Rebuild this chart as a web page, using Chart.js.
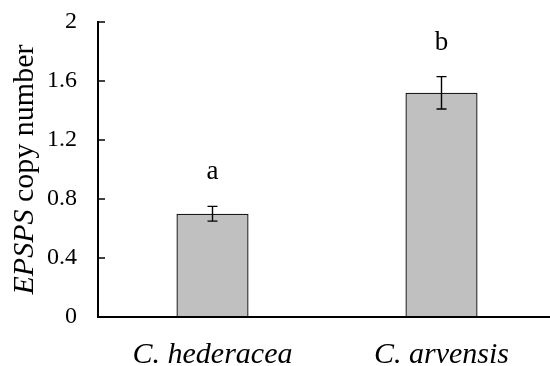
<!DOCTYPE html>
<html>
<head>
<meta charset="utf-8">
<script src="https://cdn.jsdelivr.net/npm/chart.js@4.4.0/dist/chart.umd.min.js"></script>
<style>
html,body{margin:0;padding:0;background:#fff;overflow:hidden;}
#wrap{width:560px;height:366px;overflow:hidden;}
</style>
</head>
<body>
<div id="wrap"><canvas id="c" width="560" height="366"></canvas></div>
<script>
const categories = ['C. hederacea', 'C. arvensis'];
const copyNumber = [0.70, 1.52];
const errorBars = [0.05, 0.11];
const groupLetters = ['a', 'b'];
const yTickValues = [0, 0.4, 0.8, 1.2, 1.6, 2];
const yTitleItalic = 'EPSPS';
const yTitleRest = ' copy number';

const FONT = '"Liberation Serif", "Times New Roman", serif';

const extras = {
  id: 'extras',
  afterDatasetsDraw(chart) {
    const ctx = chart.ctx;
    const x = chart.scales.x, y = chart.scales.y;
    const area = chart.chartArea;
    ctx.save();
    ctx.strokeStyle = '#000';
    ctx.lineWidth = 1.4;
    copyNumber.forEach((v, i) => {
      const cx = x.getPixelForValue(i);
      const yt = y.getPixelForValue(v + errorBars[i]);
      const yb = y.getPixelForValue(v - errorBars[i]);
      ctx.beginPath();
      ctx.moveTo(cx, yt); ctx.lineTo(cx, yb);
      ctx.moveTo(cx - 5, yt); ctx.lineTo(cx + 5, yt);
      ctx.moveTo(cx - 5, yb); ctx.lineTo(cx + 5, yb);
      ctx.stroke();
      ctx.fillStyle = '#000';
      ctx.font = '27px ' + FONT;
      ctx.textAlign = 'center';
      ctx.textBaseline = 'middle';
      ctx.fillText(groupLetters[i], cx, yt - 34);
    });
    ctx.lineWidth = 2;
    ctx.beginPath();
    ctx.moveTo(area.left, area.top - 1);
    ctx.lineTo(area.left, area.bottom);
    ctx.lineTo(area.right, area.bottom);
    ctx.stroke();
    ctx.lineWidth = 1.5;
    yTickValues.forEach(v => {
      const py = y.getPixelForValue(v);
      ctx.beginPath();
      ctx.moveTo(area.left, py); ctx.lineTo(area.left + 7, py);
      ctx.stroke();
    });
    ctx.translate(25, (area.top + area.bottom) / 2);
    ctx.rotate(-Math.PI / 2);
    ctx.textBaseline = 'middle';
    ctx.textAlign = 'left';
    ctx.font = 'italic 30px ' + FONT;
    const w1 = ctx.measureText(yTitleItalic).width;
    ctx.font = '30px ' + FONT;
    const w2 = ctx.measureText(yTitleRest).width;
    const start = -(w1 + w2) / 2;
    ctx.font = 'italic 30px ' + FONT;
    ctx.fillText(yTitleItalic, start, 0);
    ctx.font = '30px ' + FONT;
    ctx.fillText(yTitleRest, start + w1, 0);
    ctx.restore();
  }
};

new Chart(document.getElementById('c'), {
  type: 'bar',
  data: {
    labels: categories,
    datasets: [{
      data: copyNumber,
      backgroundColor: '#c0c0c0',
      borderColor: '#1a1a1a',
      borderWidth: 1.4,
      borderSkipped: 'bottom',
      categoryPercentage: 1,
      barPercentage: 0.315
    }]
  },
  options: {
    responsive: false,
    animation: false,
    layout: { padding: { top: 22, left: 0, right: 4, bottom: 0 } },
    plugins: { legend: { display: false }, tooltip: { enabled: false } },
    scales: {
      x: {
        grid: { display: false, drawTicks: false },
        border: { display: false },
        ticks: { color: '#000', padding: 20, font: { family: FONT, size: 30, style: 'italic' } },
        afterFit(s) { s.height = 49; s.paddingLeft = 0; s.paddingRight = 0; }
      },
      y: {
        min: 0, max: 2,
        afterBuildTicks(s) { s.ticks = yTickValues.map(v => ({ value: v })); },
        grid: { display: false, drawTicks: false },
        border: { display: false },
        ticks: {
          color: '#000', padding: 21,
          font: { family: FONT, size: 24 },
          callback: v => String(+Number(v).toFixed(1))
        },
        afterFit(s) { s.width = 98; s.paddingTop = 0; s.paddingBottom = 0; }
      }
    }
  },
  plugins: [extras]
});
</script>
</body>
</html>
